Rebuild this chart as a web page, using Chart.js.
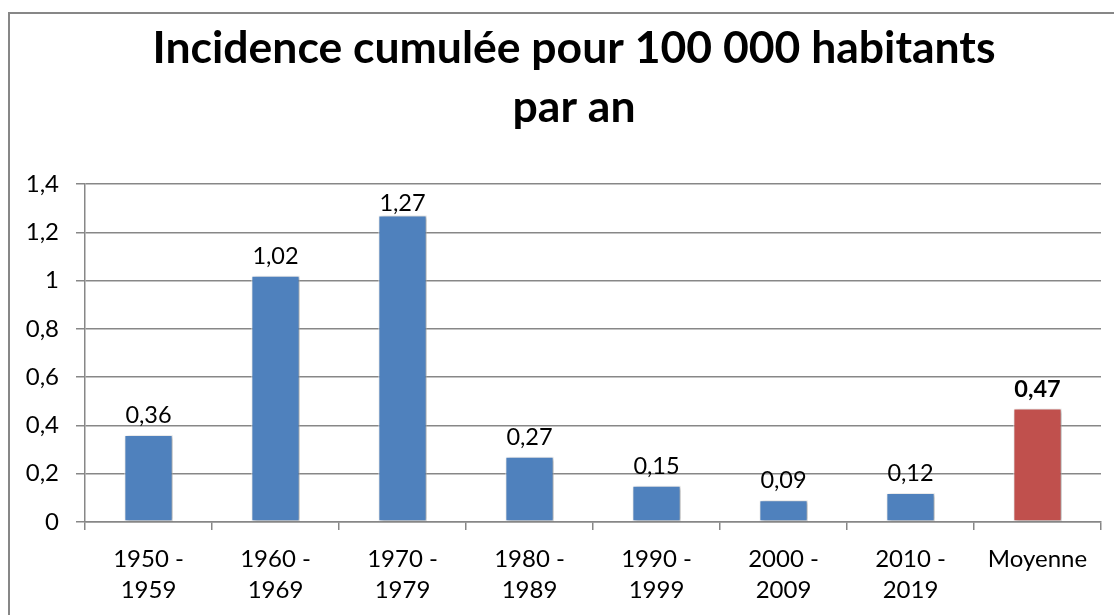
<!DOCTYPE html>
<html>
<head>
<meta charset="utf-8">
<script src="https://cdn.jsdelivr.net/npm/chart.js@4/dist/chart.umd.min.js"></script>
<style>
  body { margin: 0; background: #fff; overflow: hidden; }
  .frame { position: absolute; left: 8px; top: 12px; width: 1200px; height: 700px; border: 2px solid #878787; box-sizing: border-box; }
  #chart { position: absolute; left: 0; top: 0; }
</style>
</head>
<body>
<div class="frame"></div>
<canvas id="chart" width="1114" height="615"></canvas>
<script>
// data
const periods = [["1950 -", "1959"], ["1960 -", "1969"], ["1970 -", "1979"], ["1980 -", "1989"],
                 ["1990 -", "1999"], ["2000 -", "2009"], ["2010 -", "2019"], "Moyenne"];
const incidence = [0.36, 1.02, 1.27, 0.27, 0.15, 0.09, 0.12, 0.47];
const barColors = ["#4F81BD", "#4F81BD", "#4F81BD", "#4F81BD", "#4F81BD", "#4F81BD", "#4F81BD", "#C0504D"];
const titleLines = ["Incidence cumulée pour 100 000 habitants", "par an"];

const fmt = (v) => String(Math.round(v * 100) / 100).replace(".", ",");

// title is centred on the frame, not on the canvas, so draw it here
const frameTitle = {
  id: "frameTitle",
  afterDraw(chart) {
    const ctx = chart.ctx;
    ctx.save();
    ctx.fillStyle = "#000";
    ctx.font = "bold 44.5px Lato";
    ctx.textAlign = "center";
    ctx.textBaseline = "alphabetic";
    titleLines.forEach((line, i) => ctx.fillText(line, 574, 63 + i * 59));
    ctx.restore();
  }
};

// shadow under the bars, like the office chart
const barShadow = {
  id: "barShadow",
  beforeDatasetDraw(chart) {
    const ctx = chart.ctx;
    ctx.save();
    ctx.shadowColor = "rgba(0,0,0,0.35)";
    ctx.shadowBlur = 4;
    ctx.shadowOffsetX = 2;
    ctx.shadowOffsetY = 1;
  },
  afterDatasetDraw(chart) {
    chart.ctx.restore();
  }
};

// value labels above each bar
const valueLabels = {
  id: "valueLabels",
  afterDatasetsDraw(chart) {
    const ctx = chart.ctx;
    const meta = chart.getDatasetMeta(0);
    const top = chart.chartArea.top;
    ctx.save();
    ctx.fillStyle = "#000";
    ctx.textAlign = "center";
    ctx.textBaseline = "alphabetic";
    meta.data.forEach((bar, i) => {
      const last = i === incidence.length - 1;
      ctx.font = (last ? "bold " : "") + "23.5px Lato";
      let y = bar.y - 12;
      if (y - 16 < top + 11) y = top + 27;
      ctx.fillText(fmt(incidence[i]), bar.x, y);
    });
    ctx.restore();
  }
};

const ctx = document.getElementById("chart").getContext("2d");
new Chart(ctx, {
  type: "bar",
  data: {
    labels: periods,
    datasets: [{
      data: incidence,
      backgroundColor: barColors,
      borderColor: "#ffffff",
      borderWidth: 1,
      borderSkipped: false,
      categoryPercentage: 1,
      barPercentage: 0.38
    }]
  },
  options: {
    responsive: false,
    animation: false,
    devicePixelRatio: 1,
    layout: { padding: { left: 0, right: 13, top: 184, bottom: 0 } },
    plugins: {
      legend: { display: false },
      tooltip: { enabled: false },
      title: { display: false }
    },
    scales: {
      x: {
        afterFit: (s) => { s.height = 93; },
        grid: { drawOnChartArea: false, color: "#878787", lineWidth: 1.5, tickLength: 8 },
        border: { color: "#878787", width: 1.5 },
        ticks: { color: "#000", padding: 14, maxRotation: 0, autoSkip: false,
                 font: { family: "Lato", size: 24, lineHeight: 31 / 24 } }
      },
      y: {
        min: 0,
        max: 1.4,
        afterFit: (s) => { s.width = 85; },
        grid: { color: "#878787", lineWidth: 1.5, tickLength: 9 },
        border: { color: "#878787", width: 1.5 },
        ticks: { stepSize: 0.2, color: "#000", padding: 17,
                 font: { family: "Lato", size: 24 },
                 callback: (v) => fmt(v) }
      }
    }
  },
  plugins: [barShadow, valueLabels, frameTitle]
});
</script>
</body>
</html>
